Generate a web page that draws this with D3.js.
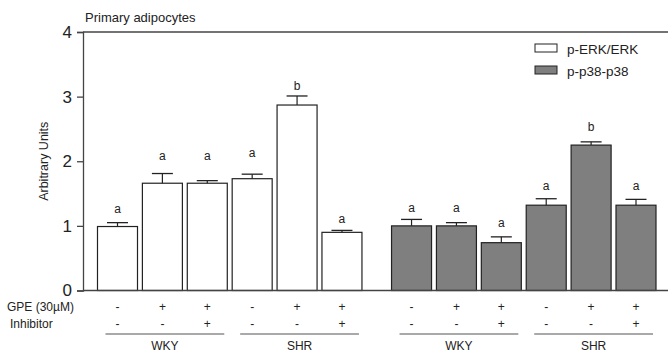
<!DOCTYPE html>
<html>
<head>
<meta charset="utf-8">
<script src="https://cdn.jsdelivr.net/npm/d3@7"></script>
<style>
  body { margin: 0; background: #fff; }
  text { font-family: "Liberation Sans", Arial, sans-serif; }
</style>
</head>
<body>
<div id="chart"></div>
<script>
// chart data
const series = ["p-ERK/ERK", "p-p38-p38"];
const strains = ["WKY", "SHR", "WKY", "SHR"];
const gpe = ["-", "+", "+", "-", "+", "+", "-", "+", "+", "-", "+", "+"];
const inhibitor = ["-", "-", "+", "-", "-", "+", "-", "-", "+", "-", "-", "+"];
const erkMean = [0.99, 1.66, 1.66, 1.73, 2.87, 0.90];
const erkErr = [0.06, 0.15, 0.04, 0.07, 0.14, 0.03];
const p38Mean = [1.00, 1.00, 0.74, 1.32, 2.25, 1.32];
const p38Err = [0.10, 0.05, 0.09, 0.10, 0.05, 0.09];
const letters = ["a", "a", "a", "a", "b", "a", "a", "a", "a", "a", "b", "a"];
const letterAt = [1.20, 2.02, 2.02, 2.07, 3.10, 1.05, 1.22, 1.22, 0.99, 1.56, 2.47, 1.56];
const yTicks = [0, 1, 2, 3, 4];

const width = 668, height = 354;
const colors = ["#ffffff", "#7f7f7f"];

// one row per bar
const bars = [];
erkMean.forEach((v, i) => bars.push({s: 0, i: i, v: v, e: erkErr[i]}));
p38Mean.forEach((v, i) => bars.push({s: 1, i: i, v: v, e: p38Err[i]}));
bars.forEach((d, k) => { d.k = k; d.slot = k + (k >= 6 ? 0.55 : 0); });

const svg = d3.select("#chart").append("svg")
  .attr("width", width).attr("height", height);

const y = d3.scaleLinear().domain([0, 4]).range([290.5, 32]);
const x = d3.scaleLinear().domain([0, 11.55]).range([117.5, 636]);
const bw = 40;

// top frame line + x axis line
svg.append("line").attr("x1", 83).attr("x2", width).attr("y1", y(4)).attr("y2", y(4))
  .attr("stroke", "#444").attr("stroke-width", 1.3);

svg.append("g")
  .attr("transform", "translate(83,0)")
  .call(d3.axisLeft(y).tickValues(yTicks).tickSize(6).tickPadding(5).tickFormat(d3.format("d")))
  .call(g => g.select(".domain").attr("stroke", "#444").attr("stroke-width", 1.3))
  .call(g => g.selectAll(".tick line").attr("stroke", "#444").attr("stroke-width", 1.3))
  .call(g => g.selectAll(".tick text").attr("font-size", "17px").attr("fill", "#222")
    .attr("font-family", "Liberation Sans, Arial, sans-serif"));

svg.append("text").attr("x", 85).attr("y", 22)
  .attr("font-size", "13px").attr("fill", "#222").text("Primary adipocytes");

svg.append("text")
  .attr("transform", `translate(48,${(y(0) + y(4)) / 2}) rotate(-90)`)
  .attr("text-anchor", "middle").attr("font-size", "12.5px").attr("fill", "#222")
  .text("Arbitrary Units");

// bars
svg.selectAll(".bar").data(bars).enter().append("rect")
  .attr("class", "bar")
  .attr("x", d => x(d.slot) - bw / 2)
  .attr("y", d => y(d.v))
  .attr("width", bw)
  .attr("height", d => y(0) - y(d.v))
  .attr("fill", d => colors[d.s])
  .attr("stroke", "#222").attr("stroke-width", 1.2);

// error bars (upper only)
const err = svg.selectAll(".err").data(bars).enter().append("g");
err.append("line")
  .attr("x1", d => x(d.slot)).attr("x2", d => x(d.slot))
  .attr("y1", d => y(d.v)).attr("y2", d => y(d.v + d.e))
  .attr("stroke", "#222").attr("stroke-width", 1.2);
err.append("line")
  .attr("x1", d => x(d.slot) - 10.5).attr("x2", d => x(d.slot) + 10.5)
  .attr("y1", d => y(d.v + d.e)).attr("y2", d => y(d.v + d.e))
  .attr("stroke", "#222").attr("stroke-width", 1.3);

svg.selectAll(".letter").data(bars).enter().append("text")
  .attr("x", d => x(d.slot)).attr("y", d => y(letterAt[d.k]))
  .attr("text-anchor", "middle").attr("font-size", "12px").attr("fill", "#222")
  .text(d => letters[d.k]);

// x axis baseline
svg.append("line").attr("x1", 83).attr("x2", width).attr("y1", y(0)).attr("y2", y(0))
  .attr("stroke", "#444").attr("stroke-width", 1.3);

// legend
const legend = svg.append("g").attr("transform", "translate(535,44)");
series.forEach((s, i) => {
  legend.append("rect").attr("x", 0).attr("y", i * 22).attr("width", 22).attr("height", 8)
    .attr("fill", colors[i]).attr("stroke", "#222").attr("stroke-width", 1);
  legend.append("text").attr("x", 32).attr("y", i * 22 + 9.5)
    .attr("font-size", "13.5px").attr("fill", "#222").text(s);
});

// treatment rows under the bars
svg.append("text").attr("x", 7).attr("y", 311).attr("font-size", "12px").attr("fill", "#222")
  .text("GPE (30\u00b5M)");
svg.append("text").attr("x", 10).attr("y", 328).attr("font-size", "12px").attr("fill", "#222")
  .text("Inhibitor");

svg.selectAll(".gpe").data(bars).enter().append("text")
  .attr("x", d => x(d.slot)).attr("y", 311)
  .attr("text-anchor", "middle").attr("font-size", "12px").attr("fill", "#222")
  .text(d => gpe[d.k]);
svg.selectAll(".inh").data(bars).enter().append("text")
  .attr("x", d => x(d.slot)).attr("y", 328)
  .attr("text-anchor", "middle").attr("font-size", "12px").attr("fill", "#222")
  .text(d => inhibitor[d.k]);

// strain brackets
strains.forEach((s, g) => {
  const a = bars[g * 3], b = bars[g * 3 + 2];
  const x0 = x(a.slot) - bw / 2 + 8, x1 = x(b.slot) + bw / 2 - 3;
  svg.append("line").attr("x1", x0).attr("x2", x1).attr("y1", 334).attr("y2", 334)
    .attr("stroke", "#555").attr("stroke-width", 1.2);
  svg.append("text").attr("x", (x0 + x1) / 2).attr("y", 350)
    .attr("text-anchor", "middle").attr("font-size", "12px").attr("fill", "#222").text(s);
});
</script>
</body>
</html>
